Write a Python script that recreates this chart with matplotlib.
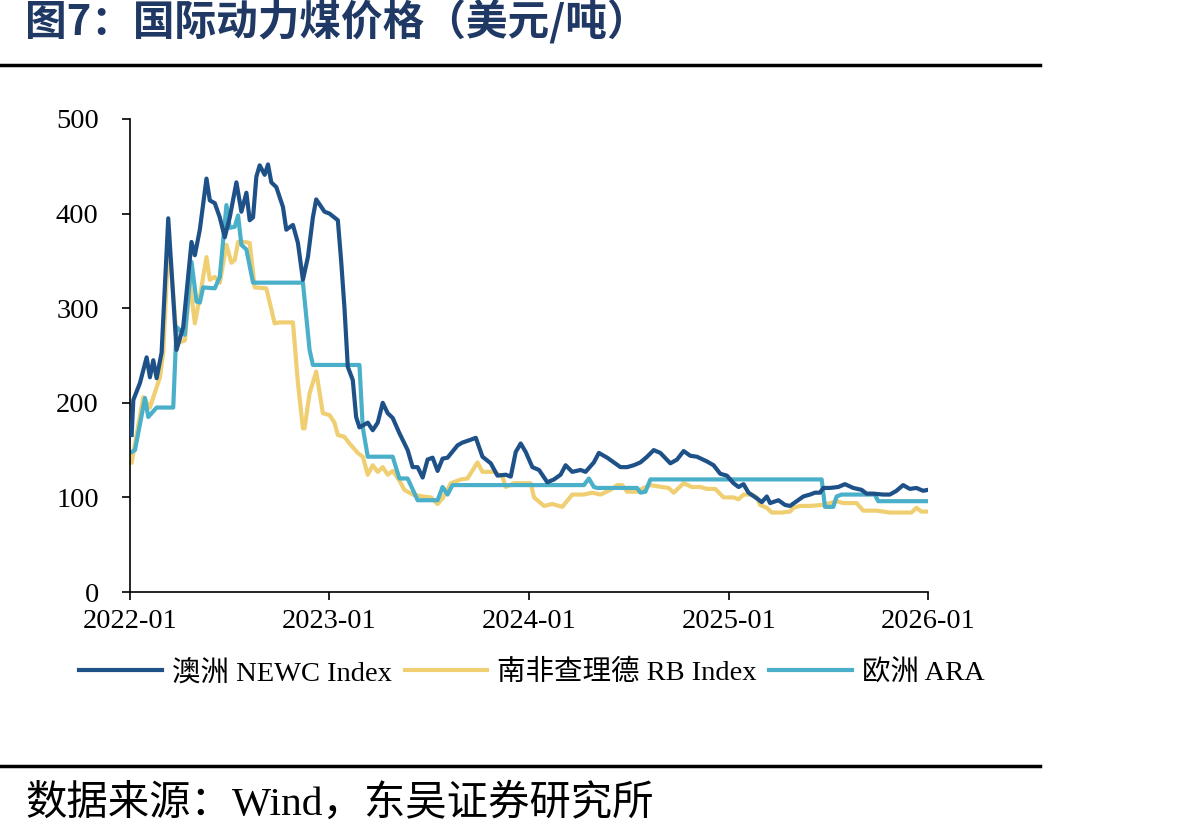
import numpy as np
import pandas as pd
import matplotlib
matplotlib.use("Agg")
import matplotlib.pyplot as plt
from matplotlib.lines import Line2D

plt.rcParams['font.family'] = ['Liberation Serif', 'Noto Sans CJK SC', 'DejaVu Sans']

# x values: months since 2022-01, y: USD/t
newc_m = [0.1, 0.2, 0.6, 1.0, 1.2, 1.4, 1.6, 1.9, 2.3, 2.8, 3.2, 3.7, 3.9, 4.2, 4.6, 4.8,
          5.1, 5.4, 5.7, 6.0, 6.4, 6.7, 7.0, 7.2, 7.4, 7.6, 7.8, 8.1, 8.3, 8.5, 8.8, 9.2,
          9.4, 9.8, 10.1, 10.4, 10.7, 11.0, 11.2, 11.7, 12.0, 12.5, 12.7, 12.9, 13.1, 13.4,
          13.6, 13.8, 14.3, 14.6, 14.9, 15.2, 15.5, 15.8, 16.2, 16.7, 17.0, 17.3, 17.6, 17.9,
          18.2, 18.5, 18.8, 19.1, 19.7, 20.0, 20.5, 20.8, 21.2, 21.7, 22.1, 22.6, 22.9, 23.2,
          23.5, 23.8, 24.2, 24.6, 25.1, 25.5, 25.9, 26.2, 26.6, 27.1, 27.4, 27.9, 28.2, 28.7,
          29.1, 29.5, 29.9, 30.3, 30.7, 31.1, 31.5, 31.9, 32.5, 32.9, 33.3, 33.7, 34.1, 34.7,
          35.1, 35.5, 35.9, 36.3, 36.6, 36.9, 37.2, 37.7, 38.0, 38.3, 38.5, 39.0, 39.4, 39.7,
          40.1, 40.5, 40.9, 41.2, 41.5, 41.7, 42.1, 42.6, 43.0, 43.5, 44.0, 44.3, 44.7, 45.3,
          45.7, 46.1, 46.5, 46.9, 47.3, 47.7, 48.0]
newc_v = [166, 203, 221, 248, 227, 245, 226, 253, 395, 256, 280, 370, 356, 383, 437, 414,
          411, 396, 375, 396, 433, 402, 422, 393, 396, 439, 451, 441, 452, 433, 428, 407,
          383, 388, 369, 330, 354, 396, 415, 402, 400, 393, 350, 300, 238, 224,
          185, 174, 179, 171, 179, 200, 189, 184, 168, 150, 132, 132, 121, 140,
          142, 128, 141, 142, 155, 158, 161, 163, 143, 136, 123, 124, 122, 148,
          157, 148, 132, 129, 116, 119, 124, 134, 127, 129, 127, 137, 147, 142,
          137, 132, 132, 134, 137, 143, 150, 147, 136, 140, 149, 144, 143, 138,
          134, 125, 123, 115, 111, 114, 105, 99, 95, 101, 94, 97, 92, 91,
          96, 101, 103, 105, 105, 110, 110, 111, 114, 110, 108, 104, 104, 103,
          103, 107, 113, 109, 110, 107, 108]

rb_m = [0.1, 0.8, 1.2, 1.8, 2.0, 2.3, 2.5, 2.8, 3.0, 3.3, 3.6, 3.9, 4.2, 4.6, 4.8, 5.1,
        5.4, 5.8, 6.1, 6.3, 6.5, 6.9, 7.2, 7.5, 8.2, 8.7, 9.0, 9.8, 10.1, 10.4, 10.5, 10.8,
        11.2, 11.6, 12.0, 12.3, 12.5, 12.9, 13.2, 13.7, 14.0, 14.3, 14.6, 14.9, 15.2, 15.5,
        15.8, 16.2, 16.5, 17.0, 17.6, 18.1, 18.5, 18.8, 19.3, 19.9, 20.3, 20.9, 21.2, 21.9,
        22.4, 22.6, 23.1, 24.1, 24.3, 24.9, 25.4, 26.0, 26.6, 27.3, 27.8, 28.3, 28.9, 29.3,
        29.6, 29.9, 30.5, 30.9, 31.3, 32.0, 32.4, 32.7, 33.3, 33.8, 34.3, 34.7, 35.2, 35.7,
        36.3, 36.6, 36.9, 37.4, 37.7, 37.9, 38.3, 38.6, 39.2, 39.7, 39.9, 40.3, 40.9, 41.6,
        42.1, 42.5, 42.9, 43.7, 44.1, 44.9, 45.7, 47.0, 47.3, 47.6, 48.0]
rb_v = [137, 206, 195, 227, 253, 365, 337, 270, 264, 266, 327, 284, 312, 354, 330, 333,
        327, 367, 348, 351, 370, 370, 369, 322, 321, 284, 285, 285, 221, 173, 173, 210,
        233, 189, 187, 179, 166, 164, 157, 147, 143, 124, 134, 127, 132, 124,
        128, 118, 108, 103, 101, 100, 93, 99, 115, 119, 120, 137, 127, 127,
        122, 111, 115, 115, 100, 91, 93, 90, 103, 103, 105, 103, 108, 113,
        113, 106, 106, 110, 113, 111, 110, 105, 115, 111, 111, 109, 109, 100,
        100, 98, 103, 103, 100, 92, 89, 84, 84, 85, 89, 91, 91, 92,
        94, 96, 94, 94, 86, 86, 84, 84, 89, 85, 85]

ara_m = [0.1, 0.3, 0.9, 1.1, 1.6, 2.6, 2.8, 3.3, 3.7, 4.0, 4.2, 4.4, 5.1, 5.4, 5.8, 6.0,
         6.3, 6.5, 6.7, 7.0, 7.4, 10.4, 10.8, 11.0, 13.8, 14.0, 14.3, 15.8, 16.2, 16.7,
         17.3, 18.5, 18.8, 19.1, 19.4, 27.3, 27.6, 27.9, 28.1, 30.5, 30.7, 31.0, 31.3,
         41.6, 41.8, 42.3, 42.5, 42.8, 44.8, 45.0, 48.0]
ara_v = [148, 150, 205, 185, 195, 195, 280, 272, 349, 307, 306, 322, 321, 333, 409, 385,
         386, 398, 367, 362, 327, 327, 256, 240, 240, 174, 143, 143, 120, 120,
         97, 97, 111, 103, 113, 113, 120, 111, 110, 110, 105, 106, 119,
         119, 90, 90, 101, 103, 103, 96, 96]

labels = ['澳洲 NEWC Index', '南非查理德 RB Index', '欧洲 ARA']
colors = ['#1f5189', '#f0cf72', '#4aafc8']
xtick_labels = ['2022-01', '2023-01', '2024-01', '2025-01', '2026-01']

start = pd.Timestamp('2022-01-01')


def to_dates(months):
    return [start + pd.Timedelta(days=m * 30.44) for m in months]


fig = plt.figure(figsize=(11.92, 8.39), dpi=100)
ax = fig.add_axes([130 / 1192, 1 - 592 / 839, 798 / 1192, 473 / 839])

ax.plot(to_dates(ara_m), ara_v, color=colors[2], lw=3, zorder=2)
ax.plot(to_dates(rb_m), rb_v, color=colors[1], lw=3, zorder=1)
ax.plot(to_dates(newc_m), newc_v, color=colors[0], lw=3, zorder=3)

ticks = [pd.Timestamp(t + '-01') for t in xtick_labels]
ax.set_xlim(ticks[0], ticks[-1])
ax.set_xticks(ticks)
ax.set_xticklabels(xtick_labels)
ax.set_ylim(0, 500)
ax.set_yticks(range(0, 501, 100))
ax.tick_params(axis='both', labelsize=20.5, direction='out', length=6, width=1.2, colors='black')
ax.tick_params(axis='x', pad=6)
ax.tick_params(axis='y', pad=16.5)
for s in ['top', 'right']:
    ax.spines[s].set_visible(False)
for s in ['left', 'bottom']:
    ax.spines[s].set_linewidth(1.2)

handles = [Line2D([], [], color=c, lw=3) for c in colors]
fig.legend(handles, labels, loc='center', bbox_to_anchor=(532 / 1192, 1 - 673 / 839),
           ncol=3, frameon=False, fontsize=20.5, handlelength=2.9, handletextpad=0.35,
           columnspacing=0.45, borderaxespad=0, borderpad=0)

fig.text(25 / 1192, 1 - 22 / 839, '图7：国际动力煤价格（美元/吨）', fontsize=30,
         fontweight='bold', color='#1f3864', va='center', ha='left',
         family=['Noto Sans CJK SC'])
fig.add_artist(Line2D([0, 1040 / 1192], [1 - 65 / 839] * 2, color='black', lw=2.5))
fig.add_artist(Line2D([0, 1040 / 1192], [1 - 766 / 839] * 2, color='black', lw=2.5))
fig.text(25 / 1192, 1 - 804 / 839, '数据来源：Wind，东吴证券研究所', fontsize=29.8,
         va='center', ha='left')

fig.savefig('out.png', dpi=100)
